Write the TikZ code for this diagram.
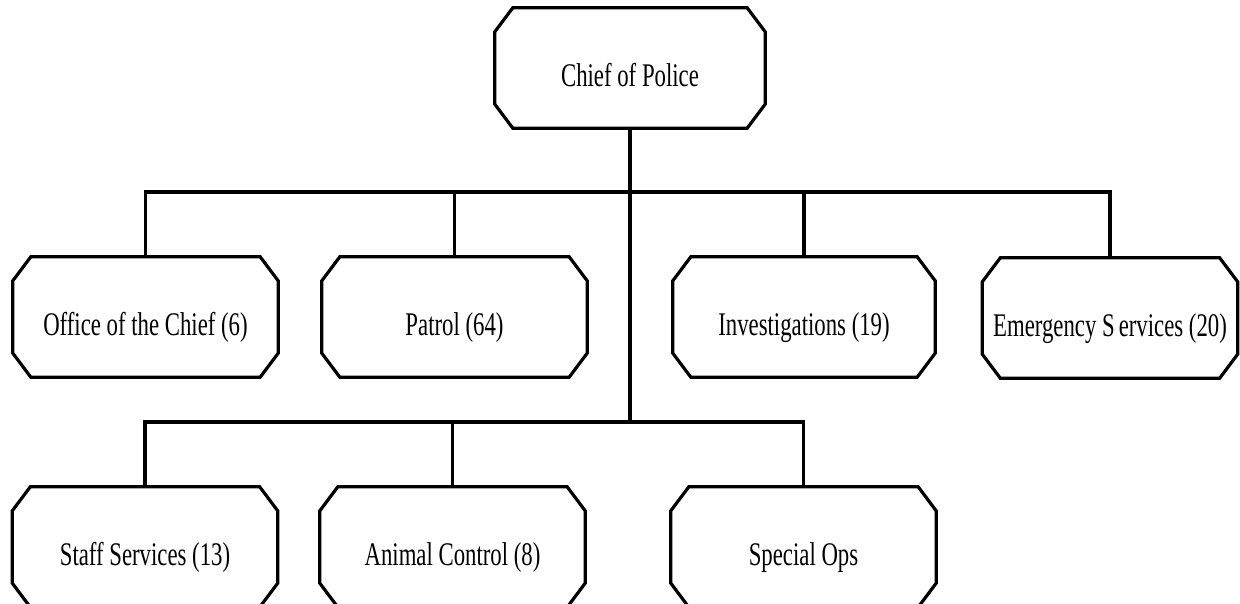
\documentclass[tikz,border=0pt]{standalone}
\usepackage{fontspec}
\newfontfamily\orgfont[FakeStretch=0.69]{Liberation Serif}
\usetikzlibrary{calc}
\begin{document}
\begin{tikzpicture}[x=1pt,y=1pt,
  unit/.style={minimum width=265pt, minimum height=120pt, inner sep=0pt,
    text height=37pt, text depth=0pt,
    font=\orgfont\fontsize{33}{33}\selectfont},
  outline/.style={line width=3.2pt, line join=miter},
  link/.style={line width=3.2pt}]
\useasboundingbox (0,0) rectangle (1240,-604);
\clip (0,0) rectangle (1240,-604);

% units
\node[unit, minimum width=270pt] (chief) at (630,-68) {Chief of Police};
\node[unit] (office) at (145.5,-317) {Office of the Chief (6)};
\node[unit] (patrol) at (454.5,-317) {Patrol (64)};
\node[unit, minimum width=262pt] (invest) at (804,-317) {Investigations (19)};
\node[unit, minimum width=255pt] (emerg) at (1110,-318) {Emergency S\kern4pt ervices (20)};
\node[unit] (staff) at (145,-547) {Staff Services (13)};
\node[unit] (animal) at (452.5,-547) {Animal Control (8)};
\node[unit] (special) at (803.5,-547) {Special Ops};

% chamfered outlines
\def\cx{18}
\def\cy{24}
\foreach \n in {chief,office,patrol,invest,emerg,staff,animal,special}{
  \draw[outline]
    ($(\n.north west)+(\cx,0)$) -- ($(\n.north east)+(-\cx,0)$)
    -- ($(\n.north east)+(0,-\cy)$) -- ($(\n.south east)+(0,\cy)$)
    -- ($(\n.south east)+(-\cx,0)$) -- ($(\n.south west)+(\cx,0)$)
    -- ($(\n.south west)+(0,\cy)$) -- ($(\n.north west)+(0,-\cy)$)
    -- cycle;
}

% reporting lines
\coordinate (busA) at (630,-192);
\coordinate (busB) at (630,-422);
\draw[link] (chief.south) -- (busB);
\draw[link] (office.north) |- (busA) -| (emerg.north);
\draw[link] (patrol.north) -- (patrol.north |- busA);
\draw[link] (invest.north) -- (invest.north |- busA);
\draw[link] (staff.north) |- (busB) -| (special.north);
\draw[link] (animal.north) -- (animal.north |- busB);
\end{tikzpicture}
\end{document}
